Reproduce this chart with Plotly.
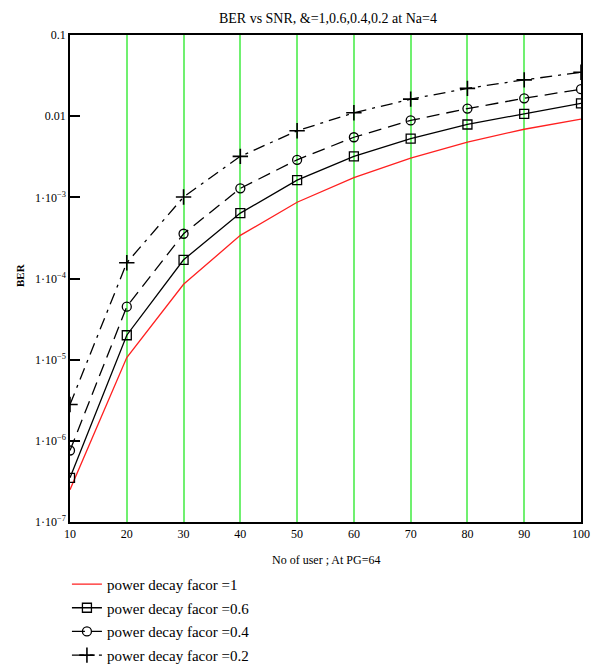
import plotly.graph_objects as go

users = [10, 20, 30, 40, 50, 60, 70, 80, 90, 100]
ber_1 = [2.5e-7, 1.06e-5, 8.5e-5, 3.4e-4, 8.7e-4, 1.75e-3, 3.05e-3, 4.8e-3, 6.9e-3, 9.2e-3]
ber_06 = [3.5e-7, 2.0e-5, 1.7e-4, 6.4e-4, 1.63e-3, 3.2e-3, 5.3e-3, 7.9e-3, 1.07e-2, 1.44e-2]
ber_04 = [7.6e-7, 4.5e-5, 3.56e-4, 1.29e-3, 2.9e-3, 5.5e-3, 8.85e-3, 1.24e-2, 1.66e-2, 2.15e-2]
ber_02 = [2.8e-6, 1.56e-4, 1.01e-3, 3.2e-3, 6.6e-3, 1.1e-2, 1.62e-2, 2.2e-2, 2.8e-2, 3.47e-2]

names = ["power decay facor =1", "power decay facor =0.6",
         "power decay facor =0.4", "power decay facor =0.2"]

y_tickvals = [1e-7, 1e-6, 1e-5, 1e-4, 1e-3, 1e-2, 1e-1]
y_ticktext = ["1·10<sup>−7</sup>", "1·10<sup>−6</sup>", "1·10<sup>−5</sup>",
              "1·10<sup>−4</sup>", "1·10<sup>−3</sup>", "0.01", "0.1"]
x_tickvals = users

FONT = "Liberation Serif, Times New Roman, Times, serif"

fig = go.Figure()
fig.add_trace(go.Scatter(x=users, y=ber_1, mode="lines", name=names[0], legendgroup="a",
                         line=dict(color="#ff2020", width=1.3)))
fig.add_trace(go.Scatter(x=users, y=ber_06, mode="lines+markers", name=names[1], legendgroup="b",
                         line=dict(color="black", width=1.3),
                         marker=dict(symbol="square-open", size=9, color="black",
                                     line=dict(width=1.3, color="black"))))
fig.add_trace(go.Scatter(x=users, y=ber_04, mode="lines+markers", name=names[2], legendgroup="c",
                         line=dict(color="black", width=1.3, dash="13px,7px"),
                         marker=dict(symbol="circle-open", size=9, color="black",
                                     line=dict(width=1.3, color="black"))))
fig.add_trace(go.Scatter(x=users, y=ber_02, mode="lines+markers", name=names[3], legendgroup="d",
                         line=dict(color="black", width=1.3, dash="12px,6px,3px,6px"),
                         marker=dict(symbol="cross-thin-open", size=11, color="black",
                                     line=dict(width=1.6, color="black"))))

fig.update_layout(
    width=593, height=671,
    margin=dict(l=70, r=12, t=35, b=149, autoexpand=False),
    paper_bgcolor="white", plot_bgcolor="white",
    font=dict(family=FONT, size=12, color="black"),
    title=dict(text="BER vs SNR, &=1,0.6,0.4,0.2 at Na=4", x=0.553, xanchor="center",
               y=0.973, yanchor="middle", font=dict(family=FONT, size=14)),
    showlegend=True,
    legend=dict(x=-0.006, xanchor="left", y=-0.094, yanchor="top",
                font=dict(family=FONT, size=15), itemwidth=30,
                tracegroupgap=1.2, bgcolor="rgba(0,0,0,0)"),
    xaxis=dict(range=[10, 100], tickvals=x_tickvals, showgrid=True, automargin=False,
               gridcolor="#70f070", gridwidth=1.5, zeroline=False,
               showline=True, linecolor="black", linewidth=1.5, mirror=True,
               ticks="", tickfont=dict(family=FONT, size=12)),
    yaxis=dict(type="log", range=[-7, -1], tickvals=y_tickvals, ticktext=y_ticktext,
               showgrid=False, zeroline=False, automargin=False,
               showline=True, linecolor="black", linewidth=1.5, mirror=True,
               ticks="inside", ticklen=10, tickcolor="black", tickwidth=1.5,
               tickfont=dict(family=FONT, size=12)),
    annotations=[
        dict(text="No of user ; At PG=64", xref="paper", yref="paper",
             x=0.5, y=-0.078, xanchor="center", yanchor="middle",
             showarrow=False, font=dict(family=FONT, size=12)),
        dict(text="<b>BER</b>", xref="paper", yref="paper",
             x=-0.098, y=0.507, xanchor="center", yanchor="middle", textangle=-90,
             showarrow=False, font=dict(family=FONT, size=11)),
    ],
)

fig.write_html("out.html")
